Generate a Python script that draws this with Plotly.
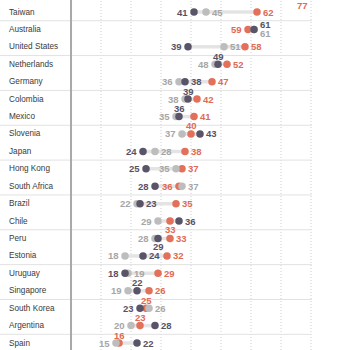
import plotly.graph_objects as go

# Rows from top to bottom (the first row sits mostly above the visible area)
countries = ["", "Taiwan", "Australia", "United States", "Netherlands", "Germany",
             "Colombia", "Mexico", "Slovenia", "Japan", "Hong Kong", "South Africa",
             "Brazil", "Chile", "Peru", "Estonia", "Uruguay", "Singapore",
             "South Korea", "Argentina", "Spain"]

light_vals = [None, 45, 61, 51, 48, 36, 38, 35, 37, 28, 35, 37, 22, 29, 28, 18, 19, 19, 26, 20, 15]
dark_vals = [None, 41, 61, 39, 49, 38, 39, 36, 43, 24, 25, 28, 23, 36, 29, 24, 18, 22, 23, 28, 22]
red_vals = [77, 62, 59, 58, 52, 47, 42, 41, 40, 38, 37, 36, 35, 33, 33, 32, 29, 26, 25, 23, 16]

# Label placement per point: l=left, r=right, a=above, b=below, bb=further below,
# ra/rb=right and nudged above/below
light_pos = ["", "r", "rb", "r", "l", "l", "l", "l", "l", "r", "l", "r", "l", "l", "l", "l", "r", "l", "r", "l", "l"]
dark_pos = ["", "l", "ra", "l", "a", "r", "a", "a", "r", "l", "l", "l", "r", "r", "b", "r", "l", "a", "l", "r", "r"]
red_pos = ["bb", "r", "l", "r", "r", "r", "r", "r", "a", "r", "r", "l", "r", "b", "r", "r", "r", "r", "a", "a", "a"]

gridvals = [10, 20, 30, 40, 50, 60, 70, 80]

C_LIGHT = "#bdbdbd"
C_DARK = "#5a5469"
C_RED = "#e3705b"
T_LIGHT = "#a6a6a6"
T_DARK = "#575265"
T_RED = "#e06a55"

X_RANGE = [-23.67, 93.0]
Y_RANGE = [19.40, -0.689]
H = 350

rows = list(range(-1, len(countries) - 1))


def row_to_paper(r):
    return (Y_RANGE[0] - r) / (Y_RANGE[0] - Y_RANGE[1])


fig = go.Figure()

# connecting range bars
bx, by = [], []
for r, a, b, c in zip(rows, light_vals, dark_vals, red_vals):
    vals = [v for v in (a, b, c) if v is not None]
    if len(vals) > 1:
        bx += [min(vals), max(vals), None]
        by += [r, r, None]
fig.add_trace(go.Scatter(x=bx, y=by, mode="lines",
                         line=dict(color="#e4e4e4", width=3.5),
                         hoverinfo="skip", showlegend=False))

for vals, col in ((red_vals, C_RED), (light_vals, C_LIGHT), (dark_vals, C_DARK)):
    fig.add_trace(go.Scatter(x=vals, y=rows, mode="markers",
                             marker=dict(color=col, size=7.5, line=dict(width=0)),
                             cliponaxis=False, showlegend=False))

SHIFTS = {
    "l": dict(xanchor="right", xshift=-4),
    "r": dict(xanchor="left", xshift=4),
    "a": dict(xanchor="center", yshift=8),
    "b": dict(xanchor="center", yshift=-8.5),
    "bb": dict(xanchor="center", yshift=-10.5),
    "ra": dict(xanchor="left", xshift=4, yshift=4.5),
    "rb": dict(xanchor="left", xshift=4, yshift=-4.5),
}

annotations = []
for vals, poss, col in ((light_vals, light_pos, T_LIGHT),
                        (dark_vals, dark_pos, T_DARK),
                        (red_vals, red_pos, T_RED)):
    for r, v, p in zip(rows, vals, poss):
        if v is None:
            continue
        # anchor on paper coordinates so labels near the top edge still render
        ann = dict(x=v, y=row_to_paper(r), xref="x", yref="paper", text=str(v),
                   showarrow=False, yanchor="middle",
                   font=dict(family="Liberation Sans, Arial, sans-serif", size=9.5,
                             color=col, weight="bold"))
        ann.update(SHIFTS[p])
        annotations.append(ann)

for r, name in zip(rows, countries):
    if name:
        annotations.append(dict(x=7 / 350, y=row_to_paper(r), xref="paper", yref="paper",
                                text=name, showarrow=False, xanchor="left", yanchor="middle",
                                font=dict(family="Liberation Sans, Arial, sans-serif",
                                          size=8.2, color="#3a3a3a")))

shapes = []
# dotted vertical gridlines
for g in gridvals:
    shapes.append(dict(type="line", xref="x", yref="paper", x0=g, x1=g, y0=0, y1=1,
                       line=dict(color="#cfcfcf", width=1, dash="1px,2px"), layer="below"))
# group separators every two rows
for r in range(0, len(countries) - 1, 2):
    shapes.append(dict(type="line", xref="x", yref="y", x0=X_RANGE[0], x1=80.3,
                       y0=r + 0.5, y1=r + 0.5,
                       line=dict(color="#e2e2e2", width=1), layer="below"))
# zero baseline
shapes.append(dict(type="line", xref="x", yref="paper", x0=0, x1=0, y0=0, y1=1,
                   line=dict(color="#a9a9a9", width=2)))

fig.update_layout(
    width=350, height=H, autosize=False,
    margin=dict(l=0, r=0, t=0, b=0),
    paper_bgcolor="white", plot_bgcolor="white",
    annotations=annotations, shapes=shapes,
    xaxis=dict(range=X_RANGE, showticklabels=False, showgrid=False,
               zeroline=False, showline=False, fixedrange=True),
    yaxis=dict(range=Y_RANGE, showticklabels=False, showgrid=False,
               zeroline=False, showline=False, fixedrange=True),
)

fig.write_html("out.html")
